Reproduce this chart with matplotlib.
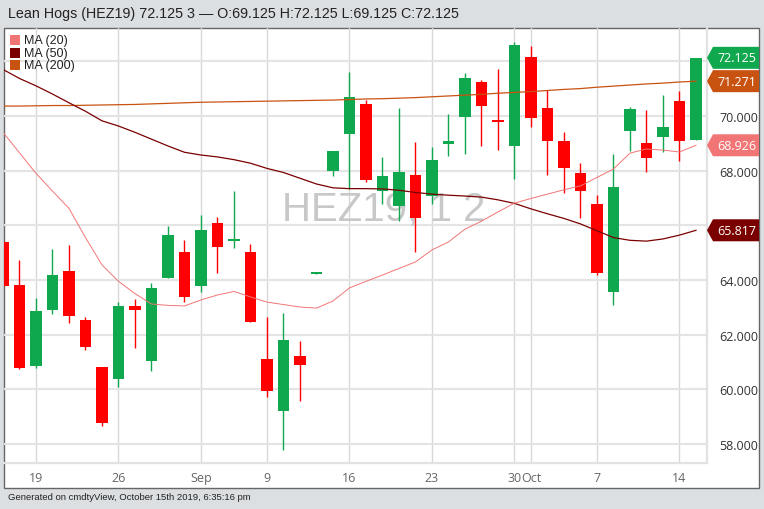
#!/usr/bin/env python3
import numpy as np
import pandas as pd
import matplotlib
matplotlib.use("Agg")
import matplotlib.pyplot as plt
from matplotlib.patches import Rectangle, Polygon
import matplotlib.transforms as mtransforms

# trading days shown (Aug 15 - Oct 15 2019)
dates = ["2019-08-15", "2019-08-16", "2019-08-19", "2019-08-20", "2019-08-21",
         "2019-08-22", "2019-08-23", "2019-08-26", "2019-08-27", "2019-08-28",
         "2019-08-29", "2019-08-30", "2019-09-03", "2019-09-04", "2019-09-05",
         "2019-09-06", "2019-09-09", "2019-09-10", "2019-09-11", "2019-09-12",
         "2019-09-13", "2019-09-16", "2019-09-17", "2019-09-18", "2019-09-19",
         "2019-09-20", "2019-09-23", "2019-09-24", "2019-09-25", "2019-09-26",
         "2019-09-27", "2019-09-30", "2019-10-01", "2019-10-02", "2019-10-03",
         "2019-10-04", "2019-10-07", "2019-10-08", "2019-10-09", "2019-10-10",
         "2019-10-11", "2019-10-14", "2019-10-15"]

opens = [65.39, 63.82, 60.85, 62.90, 64.33, 62.54, 60.82, 60.38, 63.05, 61.04,
         64.07, 65.02, 63.78, 66.08, 65.42, 65.02, 61.11, 59.21, 61.22, 64.20,
         67.99, 69.34, 70.44, 67.25, 66.71, 67.84, 67.07, 68.97, 69.96, 71.24,
         69.85, 68.90, 72.16, 70.29, 69.08, 67.91, 66.78, 63.56, 69.45, 69.01,
         69.23, 70.55, 69.125]
highs = [65.50, 64.73, 63.34, 65.13, 65.28, 62.65, 60.82, 63.19, 63.30, 63.89,
         65.97, 65.46, 66.38, 66.30, 67.25, 65.32, 62.65, 62.79, 61.77, 64.24,
         68.72, 71.61, 70.58, 68.50, 70.29, 69.05, 68.86, 70.07, 71.57, 71.31,
         71.72, 72.70, 72.56, 70.95, 69.41, 68.28, 67.11, 68.61, 70.33, 70.22,
         70.77, 70.91, 72.125]
lows = [63.70, 60.75, 60.78, 62.75, 62.43, 61.44, 58.66, 60.08, 61.51, 60.67,
        64.07, 63.19, 63.56, 64.25, 65.17, 62.46, 59.72, 57.78, 59.57, 64.20,
        67.80, 67.33, 67.58, 66.78, 66.16, 65.02, 66.78, 68.53, 68.61, 68.90,
        68.75, 67.69, 69.59, 67.84, 67.18, 66.27, 64.18, 63.08, 68.72, 67.95,
        68.68, 68.35, 69.125]
closes = [63.78, 60.78, 62.86, 64.18, 62.68, 61.55, 58.77, 63.05, 62.90, 63.71,
          65.64, 63.38, 65.83, 65.21, 65.50, 62.46, 59.94, 61.80, 60.89, 64.24,
          68.72, 70.69, 67.66, 67.80, 67.95, 66.27, 68.39, 69.08, 71.39, 70.36,
          69.78, 72.59, 69.92, 69.08, 68.10, 67.25, 64.25, 67.40, 70.25, 68.46,
          69.59, 69.08, 72.125]

ma20 = [69.40, 68.65, 67.90, 67.25, 66.62, 65.55, 64.55, 63.95, 63.50, 63.12,
        63.07, 63.05, 63.27, 63.45, 63.58, 63.38, 63.19, 63.10, 63.01, 62.97,
        63.23, 63.71, 63.95, 64.18, 64.42, 64.66, 65.10, 65.39, 65.86, 66.15,
        66.49, 66.81, 66.98, 67.14, 67.30, 67.44, 67.75, 68.06, 68.64, 68.79,
        68.75, 68.68, 68.926]
ma50 = [71.70, 71.37, 71.10, 70.80, 70.48, 70.17, 69.82, 69.63, 69.40, 69.15,
        68.90, 68.67, 68.57, 68.50, 68.40, 68.27, 68.08, 67.93, 67.72, 67.51,
        67.37, 67.34, 67.34, 67.33, 67.28, 67.20, 67.14, 67.10, 67.07, 67.03,
        66.93, 66.80, 66.60, 66.42, 66.25, 66.05, 65.80, 65.55, 65.45, 65.42,
        65.50, 65.64, 65.817]
ma200 = [70.36, 70.36, 70.37, 70.38, 70.38, 70.39, 70.40, 70.41, 70.42, 70.44,
         70.46, 70.48, 70.50, 70.51, 70.52, 70.53, 70.54, 70.55, 70.56, 70.57,
         70.58, 70.60, 70.62, 70.63, 70.65, 70.67, 70.70, 70.73, 70.76, 70.79,
         70.83, 70.86, 70.89, 70.93, 70.97, 71.00, 71.05, 71.09, 71.13, 71.17,
         71.20, 71.24, 71.271]

ma_labels = ["MA (20)", "MA (50)", "MA (200)"]
yticks = [58, 60, 62, 64, 66, 68, 70, 72]

GREEN = "#10a84e"
RED = "#ff0000"
C20 = "#f27575"
C50 = "#7a0000"
C200 = "#c85210"

W, H = 764, 510
fig = plt.figure(figsize=(W / 100, H / 100), dpi=100, facecolor="#dcdfe2")


def fx(px):
    return px / W


def fy(py):
    return 1 - py / H


# white chart panel (behind the axes)
fig.patches.append(Rectangle((fx(4), fy(489)), fx(755), 460 / H, transform=fig.transFigure,
                             facecolor="white", edgecolor="#666666", lw=1, zorder=-5))

ax = fig.add_axes([fx(4), fy(464), fx(703), 435 / H])
ax.set_zorder(1)
ax.set_facecolor("none")

dt = pd.to_datetime(dates)
x = np.arange(len(dates))
o = np.array(opens)
c = np.array(closes)
up = c >= o
cols = np.where(up, GREEN, RED)

ax.vlines(x, lows, highs, colors=cols, lw=1, zorder=3)
body = np.maximum(np.abs(c - o), 0.08)
ax.bar(x, body, bottom=np.minimum(o, c), width=0.71, color=cols, zorder=4)

ax.plot(x, ma200, color=C200, lw=0.9, zorder=5)
ax.plot(x, ma50, color=C50, lw=0.9, zorder=5)
ax.plot(x, ma20, color=C20, lw=0.7, zorder=5)

ax.text(0.54, 0.585, "HEZ19, 1 2", transform=ax.transAxes, ha="center", va="center",
        fontsize=29, color="#c8c8c8", family="Liberation Sans", zorder=1)

# x ticks: first trading day of month -> month name, mondays -> day
tpos, tlab = [], []
for i, d in enumerate(dt):
    if i > 0 and d.month != dt[i - 1].month:
        tpos.append(i)
        tlab.append(d.strftime("%b"))
    elif d.weekday() == 0:
        tpos.append(i)
        tlab.append(str(d.day))

# price tags on the right
tags = [(closes[-1], GREEN), (ma200[-1], C200), (ma20[-1], C20), (ma50[-1], C50)]
hh = 11 / 27.34

# tick labels hidden where a tag sits on top of them
ylabels = []
for v in yticks:
    covered = any(abs(v - t) < hh for t, _ in tags)
    ylabels.append("" if covered else f"{v:.3f}")

ax.set_xlim(1 / 16.5, 1 / 16.5 + 703 / 16.5)
ax.set_ylim(58 - 19 / 27.34, 58 + 416 / 27.34)
ax.set_xticks(tpos)
ax.set_xticklabels(tlab)
ax.set_yticks(yticks)
ax.set_yticklabels(ylabels)
ax.yaxis.tick_right()
ax.tick_params(axis="y", length=0, pad=9, labelsize=9, labelcolor="#333333")
ax.tick_params(axis="x", length=0, pad=6, labelsize=9, labelcolor="#666666")
for lab in ax.get_xticklabels() + ax.get_yticklabels():
    lab.set_family("Open Sans")

ax.grid(axis="y", color="#e4e4e4", lw=1.6, zorder=0)
ax.grid(axis="x", color="#d8d8d8", lw=1, zorder=0)
ax.set_axisbelow(True)
for s in ["top", "left"]:
    ax.spines[s].set_visible(False)
for s in ["bottom", "right"]:
    ax.spines[s].set_color("#e2e2e2")
    ax.spines[s].set_linewidth(1.6)

tr = mtransforms.blended_transform_factory(fig.transFigure, ax.transData)
for val, col in tags:
    pts = [(fx(707), val), (fx(713), val + hh), (fx(759), val + hh),
           (fx(759), val - hh), (fx(713), val - hh)]
    ax.add_patch(Polygon(pts, closed=True, transform=tr, facecolor=col,
                         edgecolor="none", clip_on=False, zorder=10))
    ax.text(fx(717), val, f"{val:.3f}", transform=tr, ha="left", va="center",
            fontsize=9, color="white", family="Open Sans", clip_on=False, zorder=11)

# legend
for k, (lab, col) in enumerate(zip(ma_labels, [C20, C50, C200])):
    cy = 41 + k * 12.5
    fig.patches.append(Rectangle((fx(10), fy(cy + 5)), fx(10), 10 / H,
                                 transform=fig.transFigure, facecolor=col,
                                 edgecolor="none", zorder=5))
    fig.text(fx(24), fy(cy), lab, ha="left", va="center", fontsize=9,
             color="#222222", family="Liberation Sans", zorder=6)

fig.text(fx(8), fy(14), "Lean Hogs (HEZ19) 72.125 3 \u2014 O:69.125 H:72.125 L:69.125 C:72.125",
         ha="left", va="center", fontsize=10.3, color="#222222", family="Liberation Sans")
fig.text(fx(8), fy(498), "Generated on cmdtyView, October 15th 2019, 6:35:16 pm",
         ha="left", va="center", fontsize=6.8, color="#222222", family="Liberation Sans")

fig.savefig("out.png", dpi=100, facecolor=fig.get_facecolor())
